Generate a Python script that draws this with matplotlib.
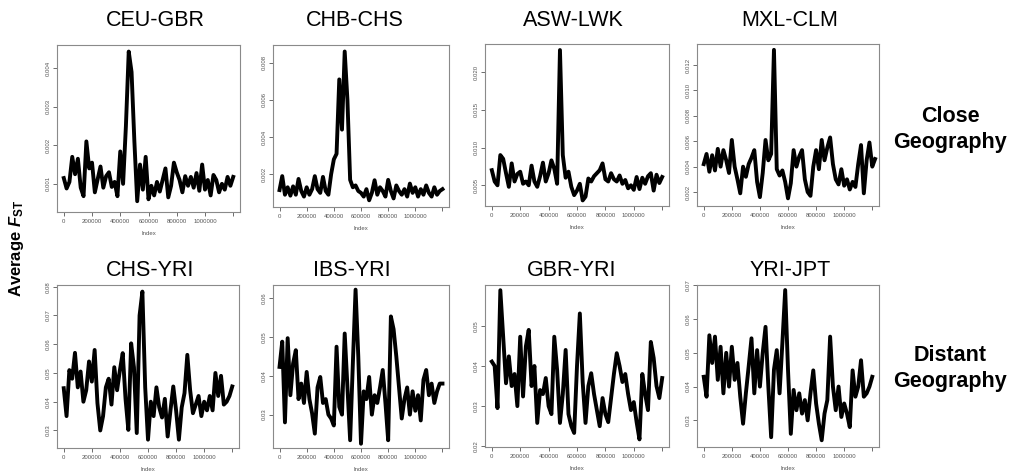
import numpy as np
import matplotlib
matplotlib.use("Agg")
import matplotlib.pyplot as plt

plt.rcParams['font.family'] = ['Liberation Sans', 'DejaVu Sans']
plt.rcParams['mathtext.fontset'] = 'custom'
plt.rcParams['mathtext.rm'] = 'Liberation Sans:bold'
plt.rcParams['mathtext.it'] = 'Liberation Sans:italic:bold'

# window step along the genome (Index axis)
step = 20000

# average Fst per window
ceu_gbr = [0.00115, 0.00088, 0.00105, 0.00170, 0.00125, 0.00165, 0.00090, 0.00068, 0.00210, 0.00140,
           0.00155, 0.00078, 0.00112, 0.00145, 0.00090, 0.00120, 0.00130, 0.00092, 0.00105, 0.00068,
           0.00184, 0.00100, 0.00250, 0.00443, 0.00390, 0.00210, 0.00055, 0.00150, 0.00085, 0.00170,
           0.00060, 0.00095, 0.00070, 0.00105, 0.00080, 0.00110, 0.00140, 0.00065, 0.00095, 0.00155,
           0.00130, 0.00110, 0.00078, 0.00120, 0.00095, 0.00118, 0.00090, 0.00128, 0.00082, 0.00150,
           0.00085, 0.00110, 0.00070, 0.00123, 0.00110, 0.00078, 0.00100, 0.00085, 0.00118, 0.00095,
           0.00118]
chb_chs = [0.00115, 0.0019, 0.0009, 0.0013, 0.00085, 0.00135, 0.0009, 0.00175, 0.0011, 0.0008,
           0.0013, 0.0009, 0.0012, 0.0019, 0.0012, 0.0010, 0.00186, 0.0011, 0.0009, 0.0020,
           0.0028, 0.0031, 0.0071, 0.0044, 0.0086, 0.0060, 0.0017, 0.0013, 0.0014, 0.0011,
           0.0010, 0.0008, 0.0012, 0.0006, 0.0010, 0.00168, 0.0009, 0.0013, 0.0011, 0.0008,
           0.0017, 0.0011, 0.0007, 0.0014, 0.0011, 0.0009, 0.0012, 0.0008, 0.0015, 0.0010,
           0.0013, 0.0008, 0.0012, 0.0009, 0.0014, 0.0010, 0.0008, 0.0013, 0.0009, 0.0011,
           0.0012]
asw_lwk = [0.0070, 0.0055, 0.0050, 0.0090, 0.0085, 0.0066, 0.0048, 0.0079, 0.0055, 0.0065,
           0.0068, 0.0052, 0.0055, 0.0050, 0.0076, 0.0055, 0.0048, 0.0062, 0.0080, 0.0055,
           0.0066, 0.0083, 0.0072, 0.0052, 0.0229, 0.0090, 0.0060, 0.0068, 0.0048, 0.0037,
           0.0043, 0.0052, 0.0030, 0.0035, 0.0059, 0.0055, 0.0062, 0.0066, 0.0070, 0.0079,
           0.0058, 0.0055, 0.0066, 0.0058, 0.0055, 0.0063, 0.0052, 0.0057, 0.0046, 0.0050,
           0.0044, 0.0061, 0.0045, 0.0060, 0.0052, 0.0062, 0.0066, 0.0043, 0.0064, 0.0053,
           0.0061]
mxl_clm = [0.0042, 0.0050, 0.0036, 0.0049, 0.0037, 0.0054, 0.0040, 0.0053, 0.0045, 0.0035,
           0.0061, 0.0040, 0.0030, 0.0019, 0.0040, 0.0032, 0.0042, 0.0047, 0.0053, 0.0028,
           0.0016, 0.0035, 0.0061, 0.0045, 0.0050, 0.0132, 0.0038, 0.0033, 0.0037, 0.0028,
           0.0015, 0.0027, 0.0053, 0.0040, 0.0048, 0.0053, 0.0030, 0.0020, 0.0017, 0.0040,
           0.0053, 0.0038, 0.0061, 0.0045, 0.0055, 0.0063, 0.0042, 0.0030, 0.0026, 0.0038,
           0.0025, 0.0030, 0.0022, 0.0028, 0.0024, 0.0042, 0.0057, 0.0019, 0.0045, 0.0059,
           0.0040, 0.0046]
chs_yri = [0.0447, 0.0350, 0.0510, 0.0480, 0.0570, 0.0450, 0.0505, 0.0400, 0.0440, 0.0540,
           0.0470, 0.0580, 0.0395, 0.0300, 0.0350, 0.0450, 0.0480, 0.0390, 0.0520, 0.0440,
           0.0510, 0.0569, 0.0410, 0.0302, 0.0603, 0.0520, 0.0291, 0.0700, 0.0783, 0.0450,
           0.0268, 0.0400, 0.0350, 0.0450, 0.0380, 0.0345, 0.0410, 0.0279, 0.0370, 0.0453,
           0.0370, 0.0268, 0.0380, 0.0430, 0.0563, 0.0440, 0.0360, 0.0390, 0.0420, 0.0350,
           0.0400, 0.0370, 0.0420, 0.0370, 0.0500, 0.0420, 0.0490, 0.0390, 0.0400, 0.0420,
           0.0453]
ibs_yri = [0.0423, 0.0488, 0.0280, 0.0497, 0.0350, 0.0432, 0.0466, 0.0340, 0.0380, 0.0330,
           0.0410, 0.0340, 0.0303, 0.0251, 0.0370, 0.0397, 0.0330, 0.0340, 0.0300, 0.0290,
           0.0272, 0.0475, 0.0320, 0.0300, 0.0509, 0.0372, 0.0234, 0.0432, 0.0622, 0.0450,
           0.0225, 0.0360, 0.0340, 0.0397, 0.0300, 0.0350, 0.0330, 0.0370, 0.0415, 0.0330,
           0.0234, 0.0553, 0.0520, 0.0450, 0.0370, 0.0290, 0.0340, 0.0370, 0.0300, 0.0360,
           0.0310, 0.0350, 0.0285, 0.0390, 0.0415, 0.0350, 0.0380, 0.0330, 0.0360, 0.0380,
           0.0380]
gbr_yri = [0.0411, 0.0400, 0.0295, 0.0589, 0.0473, 0.0357, 0.0424, 0.0350, 0.0380, 0.0300,
           0.0473, 0.0324, 0.0449, 0.0490, 0.0350, 0.0400, 0.0258, 0.0340, 0.0330, 0.0370,
           0.0300, 0.0280, 0.0473, 0.0390, 0.0258, 0.0330, 0.0440, 0.0280, 0.0250, 0.0233,
           0.0400, 0.0531, 0.0360, 0.0258, 0.0350, 0.0382, 0.0330, 0.0290, 0.0250, 0.0320,
           0.0280, 0.0260, 0.0320, 0.0380, 0.0432, 0.0400, 0.0360, 0.0380, 0.0330, 0.0290,
           0.0310, 0.0260, 0.0217, 0.0380, 0.0330, 0.0290, 0.0460, 0.0420, 0.0350, 0.0320,
           0.0370]
yri_jpt = [0.0429, 0.0370, 0.0552, 0.0470, 0.0548, 0.0420, 0.0518, 0.0380, 0.0500, 0.0400,
           0.0518, 0.0420, 0.0470, 0.0370, 0.0290, 0.0380, 0.0460, 0.0543, 0.0380, 0.0508,
           0.0400, 0.0500, 0.0577, 0.0400, 0.0250, 0.0450, 0.0508, 0.0380, 0.0530, 0.0686,
           0.0450, 0.0260, 0.0390, 0.0330, 0.0380, 0.0320, 0.0360, 0.0300, 0.0380, 0.0448,
           0.0350, 0.0290, 0.0241, 0.0320, 0.0360, 0.0548, 0.0400, 0.0330, 0.0400, 0.0310,
           0.0350, 0.0320, 0.0280, 0.0448, 0.0370, 0.0400, 0.0478, 0.0370, 0.0380, 0.0400,
           0.0429]

titles = ["CEU-GBR", "CHB-CHS", "ASW-LWK", "MXL-CLM",
          "CHS-YRI", "IBS-YRI", "GBR-YRI", "YRI-JPT"]
series = [ceu_gbr, chb_chs, asw_lwk, mxl_clm, chs_yri, ibs_yri, gbr_yri, yri_jpt]
yticks = [["0.001", "0.002", "0.003", "0.004"],
          ["0.002", "0.004", "0.006", "0.008"],
          ["0.005", "0.010", "0.015", "0.020"],
          ["0.002", "0.004", "0.006", "0.008", "0.010", "0.012"],
          ["0.03", "0.04", "0.05", "0.06", "0.07", "0.08"],
          ["0.03", "0.04", "0.05", "0.06"],
          ["0.02", "0.03", "0.04", "0.05"],
          ["0.03", "0.04", "0.05", "0.06", "0.07"]]
ylims = [(0.00027, 0.0046), (0.00024, 0.00895), (0.00226, 0.0237), (0.0009, 0.01366),
         (0.0239, 0.0806), (0.0214, 0.0634), (0.0198, 0.0602), (0.0221, 0.0701)]
xticks = [0, 200000, 400000, 600000, 800000, 1000000, 1200000]
xticklabels = ["0", "200000", "400000", "600000", "800000", "1000000", ""]

W, H = 1018, 475
fig = plt.figure(figsize=(W / 100, H / 100), dpi=100)

# panel boxes in pixels: left, right, top, bottom
boxes = [(57, 240, 45, 212), (273, 449, 45, 207), (485, 669, 44, 206), (697, 879, 44, 206),
         (57, 239, 285, 448), (273, 449, 285, 448), (485, 669, 285, 447), (697, 879, 285, 447)]
title_pos = [(155, 20), (355, 20), (573, 20), (790, 20),
             (150, 270), (352, 270), (572, 270), (790, 270)]

for k in range(8):
    l, r, t, b = boxes[k]
    ax = fig.add_axes([l / W, 1 - b / H, (r - l) / W, (b - t) / H])
    y = np.array(series[k])
    x = np.arange(len(y)) * step
    ax.plot(x, y, color="black", lw=2.8, solid_joinstyle="round")
    ax.set_xlim(-48000, 1248000)
    ax.set_ylim(*ylims[k])
    ax.set_xticks(xticks)
    ax.set_xticklabels(xticklabels)
    ax.set_yticks([float(s) for s in yticks[k]])
    ax.set_yticklabels(yticks[k], rotation=90, va="center")
    ax.tick_params(labelsize=4.3, colors="#555555", length=3, width=0.6, pad=2)
    ax.tick_params(axis="y", pad=1.5)
    for sp in ax.spines.values():
        sp.set_color("#8a8a8a")
        sp.set_linewidth(0.8)
    ax.set_xlabel("Index", fontsize=4.3, color="#555555", labelpad=5)
    tx, ty = title_pos[k]
    fig.text(tx / W, 1 - ty / H, titles[k], fontsize=15.5, ha="center", va="center")

side = [("Close", 122), ("Geography", 148), ("Distant", 361), ("Geography", 387)]
for word, base in side:
    fig.text(950 / W, 1 - base / H, word, fontsize=15.5, fontweight="bold",
             ha="center", va="baseline")
fig.text(17 / W, 1 - 248 / H, r"Average $F_{\mathrm{ST}}$", fontsize=12, fontweight="bold",
         rotation=90, ha="center", va="center")

fig.savefig("out.png", dpi=100, facecolor="white")
